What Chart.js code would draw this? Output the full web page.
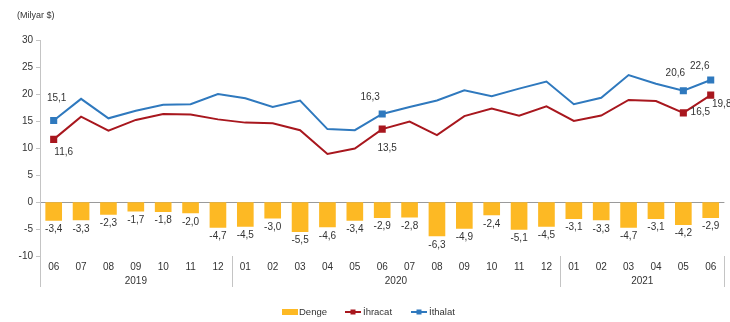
<!doctype html>
<html>
<head>
<meta charset="utf-8">
<script src="https://cdn.jsdelivr.net/npm/chart.js@4.4.1/dist/chart.umd.min.js"></script>
<style>
  html, body { margin: 0; padding: 0; background: #fff; }
  #wrap { width: 730px; height: 322px; }
</style>
</head>
<body>
<div id="wrap"><canvas id="chart" width="730" height="322"></canvas></div>
<script>
var months = ['06','07','08','09','10','11','12','01','02','03','04','05','06','07','08','09','10','11','12','01','02','03','04','05','06'];
var yearLabels = ['2019', '2020', '2021'];
var yearSpans = [7, 12, 6];

var denge   = [-3.4,-3.3,-2.3,-1.7,-1.8,-2.0,-4.7,-4.5,-3.0,-5.5,-4.6,-3.4,-2.9,-2.8,-6.3,-4.9,-2.4,-5.1,-4.5,-3.1,-3.3,-4.7,-3.1,-4.2,-2.9];
var ihracat = [11.6,15.8,13.2,15.2,16.3,16.2,15.3,14.7,14.6,13.3,8.9,9.9,13.5,14.9,12.4,15.9,17.3,16.0,17.7,15.0,16.0,18.9,18.7,16.5,19.8];
var ithalat = [15.1,19.1,15.5,16.9,18.0,18.1,20.0,19.2,17.6,18.8,13.5,13.3,16.3,17.6,18.8,20.7,19.6,21.0,22.3,18.1,19.3,23.5,21.9,20.6,22.6];

// points that carry a marker and a value label
var labeledPoints = [0, 12, 23, 24];

var FONT = '"Liberation Sans", Arial, sans-serif';
var TXT = '#333333';
var C_BAR = '#FDB924';
var C_EXP = '#A8171E';
var C_IMP = '#2F79BE';

// label offsets (px) from the point, per dataset index
var lineLabelOffsets = {
  1: { 0: [10, 13], 12: [5, 19], 23: [17, -1], 24: [11, 9] },
  2: { 0: [3, -22], 12: [-12, -17], 23: [-8, -18], 24: [-11, -14] }
};

function fmt(v) { return v.toFixed(1).replace('.', ','); }

function markerRadius(ctx) {
  return labeledPoints.indexOf(ctx.dataIndex) >= 0 ? 3.6 : 0;
}

var extras = {
  id: 'extras',
  afterDatasetsDraw: function(chart) {
    var c = chart.ctx;
    c.save();
    c.font = '10px ' + FONT;
    c.fillStyle = TXT;
    c.textAlign = 'center';
    c.textBaseline = 'middle';

    // bar labels
    chart.getDatasetMeta(0).data.forEach(function(bar, i) {
      c.fillText(fmt(denge[i]), bar.x, bar.y + 9);
    });

    // line labels
    [1, 2].forEach(function(di) {
      var meta = chart.getDatasetMeta(di);
      var vals = chart.data.datasets[di].data;
      labeledPoints.forEach(function(i) {
        var p = meta.data[i], off = lineLabelOffsets[di][i];
        c.fillText(fmt(vals[i]), p.x + off[0], p.y + off[1]);
      });
    });
    c.restore();
  },
  afterDraw: function(chart) {
    var c = chart.ctx, x = chart.scales.x, area = chart.chartArea;
    var step = x.getPixelForValue(1) - x.getPixelForValue(0);
    c.save();

    // unit title
    c.font = '9px ' + FONT;
    c.fillStyle = TXT;
    c.textAlign = 'left';
    c.textBaseline = 'middle';
    c.fillText('(Milyar $)', 17, 16);

    // year groups
    c.strokeStyle = '#c4c4c4';
    c.lineWidth = 1;
    c.font = '10px ' + FONT;
    c.textAlign = 'center';
    var start = 0;
    var bounds = [];
    yearSpans.forEach(function(n, g) {
      var left = x.getPixelForValue(start) - step / 2;
      var right = x.getPixelForValue(start + n - 1) + step / 2;
      bounds.push(left);
      if (g === yearSpans.length - 1) bounds.push(right);
      c.fillText(yearLabels[g], (left + right) / 2, 281);
      start += n;
    });
    bounds.forEach(function(bx) {
      var px = Math.round(bx) + 0.5;
      c.beginPath();
      c.moveTo(px, area.bottom);
      c.lineTo(px, 287);
      c.stroke();
    });

    // legend
    var ly = 312;
    c.font = '9.5px ' + FONT;
    c.fillStyle = C_BAR;
    c.fillRect(282, ly - 3, 16, 6);
    c.fillStyle = TXT;
    c.textAlign = 'left';
    c.fillText('Denge', 299, ly);

    [[345, C_EXP, 'İhracat'], [411, C_IMP, 'İthalat']].forEach(function(it) {
      c.strokeStyle = it[1];
      c.lineWidth = 2;
      c.beginPath();
      c.moveTo(it[0], ly);
      c.lineTo(it[0] + 16, ly);
      c.stroke();
      c.fillStyle = it[1];
      c.fillRect(it[0] + 5.5, ly - 2.5, 5, 5);
      c.fillStyle = TXT;
      c.fillText(it[2], it[0] + 18, ly);
    });
    c.restore();
  }
};

new Chart(document.getElementById('chart').getContext('2d'), {
  type: 'bar',
  data: {
    labels: months,
    datasets: [
      {
        type: 'bar', label: 'Denge', data: denge, order: 3,
        backgroundColor: C_BAR, barThickness: 16
      },
      {
        type: 'line', label: 'İhracat', data: ihracat, order: 2,
        borderColor: C_EXP, backgroundColor: C_EXP, borderWidth: 2,
        pointStyle: 'rect', pointRadius: markerRadius, pointHoverRadius: markerRadius,
        tension: 0
      },
      {
        type: 'line', label: 'İthalat', data: ithalat, order: 1,
        borderColor: C_IMP, backgroundColor: C_IMP, borderWidth: 2,
        pointStyle: 'rect', pointRadius: markerRadius, pointHoverRadius: markerRadius,
        tension: 0
      }
    ]
  },
  options: {
    responsive: false,
    animation: false,
    events: [],
    layout: { padding: { top: 40, right: 5, left: 0, bottom: 0 } },
    plugins: {
      legend: { display: false },
      tooltip: { enabled: false }
    },
    scales: {
      x: {
        grid: { display: false, drawTicks: false, tickLength: 0 },
        border: { display: false },
        ticks: { font: { family: FONT, size: 10 }, color: TXT, padding: 5, maxRotation: 0, autoSkip: false },
        afterFit: function(s) { s.height = 66; }
      },
      y: {
        min: -10, max: 30,
        ticks: { stepSize: 5, font: { family: FONT, size: 10 }, color: TXT, padding: 3 },
        grid: {
          drawOnChartArea: true,
          drawTicks: true,
          tickLength: 4,
          tickColor: '#c4c4c4',
          color: function(ctx) { return ctx.tick && ctx.tick.value === 0 ? '#9a9a9a' : 'rgba(0,0,0,0)'; }
        },
        border: { color: '#c4c4c4' },
        afterFit: function(s) { s.width = 40; }
      }
    }
  },
  plugins: [extras]
});
</script>
</body>
</html>
